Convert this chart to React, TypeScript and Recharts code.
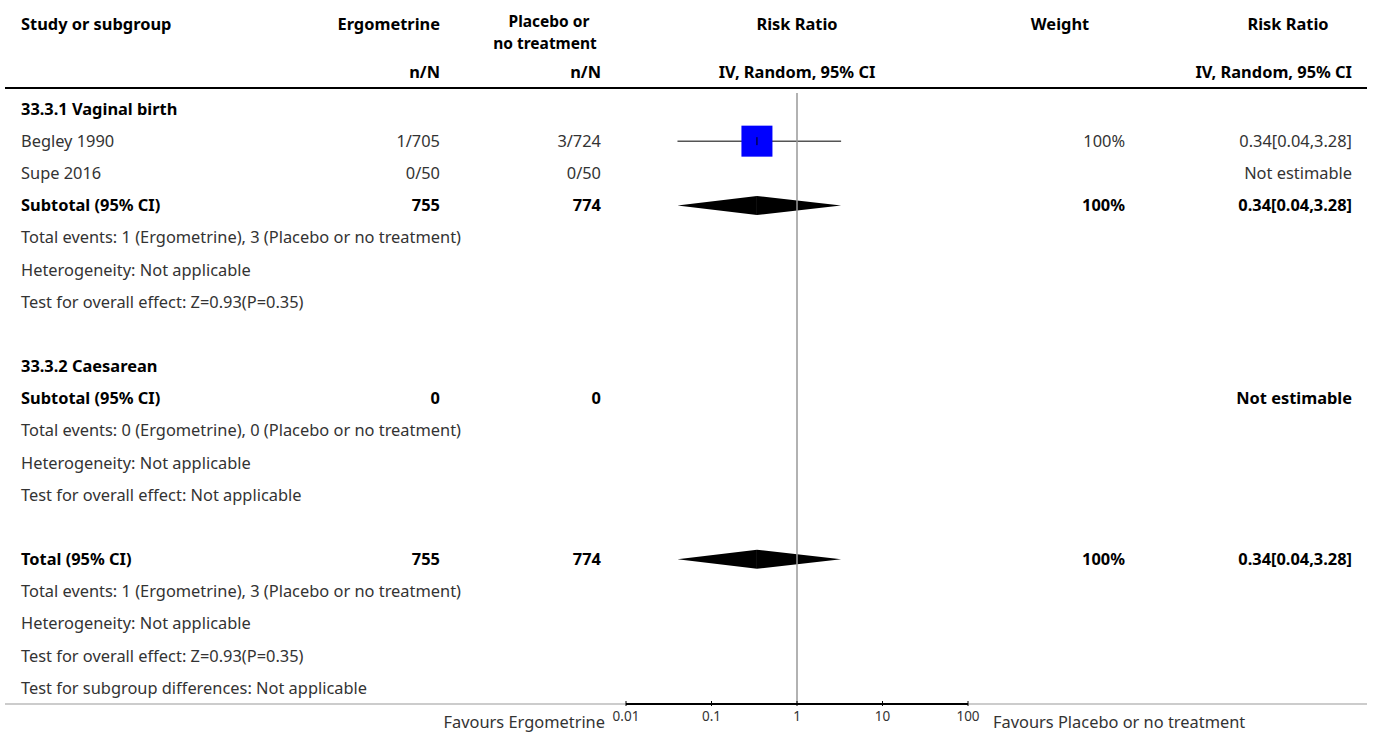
import { ComposedChart, Bar, XAxis, YAxis, ReferenceLine } from "recharts";

const FONT = "'Noto Sans', 'Open Sans', sans-serif";
const FS = 16.4;
const TEXT = "#333";

const rowLabels = [
  "33.3.1 Vaginal birth",
  "Begley 1990",
  "Supe 2016",
  "Subtotal (95% CI)",
  "Total events: 1 (Ergometrine), 3 (Placebo or no treatment)",
  "Heterogeneity: Not applicable",
  "Test for overall effect: Z=0.93(P=0.35)",
  "",
  "33.3.2 Caesarean",
  "Subtotal (95% CI)",
  "Total events: 0 (Ergometrine), 0 (Placebo or no treatment)",
  "Heterogeneity: Not applicable",
  "Test for overall effect: Not applicable",
  "",
  "Total (95% CI)",
  "Total events: 1 (Ergometrine), 3 (Placebo or no treatment)",
  "Heterogeneity: Not applicable",
  "Test for overall effect: Z=0.93(P=0.35)",
  "Test for subgroup differences: Not applicable",
];
const boldRows = [0, 3, 8, 9, 14];
const ergometrine = ["", "1/705", "0/50", "755", "", "", "", "", "", "0", "", "", "", "", "755", "", "", "", ""];
const placebo = ["", "3/724", "0/50", "774", "", "", "", "", "", "0", "", "", "", "", "774", "", "", "", ""];
const weights = ["", "100%", "", "100%", "", "", "", "", "", "", "", "", "", "", "100%", "", "", "", ""];
const riskRatios = [
  "", "0.34[0.04,3.28]", "Not estimable", "0.34[0.04,3.28]", "", "", "", "", "",
  "Not estimable", "", "", "", "", "0.34[0.04,3.28]", "", "", "", "",
];
const estimates = [null, 0.34, null, 0.34, null, null, null, null, null, null, null, null, null, null, 0.34, null, null, null, null];
const lowerCI = [null, 0.04, null, 0.04, null, null, null, null, null, null, null, null, null, null, 0.04, null, null, null, null];
const upperCI = [null, 3.28, null, 3.28, null, null, null, null, null, null, null, null, null, null, 3.28, null, null, null, null];
const markKind = ["", "study", "", "summary", "", "", "", "", "", "", "", "", "", "", "summary", "", "", "", ""];
const axisTicks = [0.01, 0.1, 1, 10, 100];

const data = rowLabels.map((label, i) => ({
  row: String(i),
  label,
  kind: markKind[i],
  left: estimates[i] != null ? [lowerCI[i], estimates[i]] : null,
  right: estimates[i] != null ? [estimates[i], upperCI[i]] : null,
}));

// left half: from lower CI to estimate
const LeftShape = (props: any) => {
  const { x, y, width, height, payload } = props;
  if (!payload || !payload.left || !isFinite(x) || !isFinite(width)) return <g />;
  const cy = y + height / 2;
  if (payload.kind === "summary") {
    return <polygon points={`${x},${cy} ${x + width},${cy - 9.5} ${x + width},${cy + 9.5}`} fill="#000" />;
  }
  return <line x1={x} x2={x + width} y1={cy} y2={cy} stroke="#555" strokeWidth={1.5} />;
};

// right half: from estimate to upper CI, plus the study square
const RightShape = (props: any) => {
  const { x, y, width, height, payload } = props;
  if (!payload || !payload.right || !isFinite(x) || !isFinite(width)) return <g />;
  const cy = y + height / 2;
  if (payload.kind === "summary") {
    return <polygon points={`${x},${cy - 9.5} ${x + width},${cy} ${x},${cy + 9.5}`} fill="#000" />;
  }
  return (
    <g>
      <line x1={x} x2={x + width} y1={cy} y2={cy} stroke="#555" strokeWidth={1.5} />
      <rect x={x - 15.5} y={cy - 15.5} width={31} height={31} fill="#0000ff" />
      <line x1={x} x2={x} y1={cy - 4} y2={cy + 4} stroke="#000" strokeWidth={1} />
    </g>
  );
};

const RowTick = (props: any) => {
  const { y, payload } = props;
  const i = Number(payload.value);
  const bold = boldRows.includes(i);
  const style = { fontFamily: FONT, fontSize: FS, fontWeight: bold ? 700 : 400 };
  const fill = bold ? "#000" : TEXT;
  return (
    <g>
      <text x={21} y={y} dy="0.35em" style={style} fill={fill}>{rowLabels[i]}</text>
      <text x={440} y={y} dy="0.35em" textAnchor="end" style={style} fill={fill}>{ergometrine[i]}</text>
      <text x={601} y={y} dy="0.35em" textAnchor="end" style={style} fill={fill}>{placebo[i]}</text>
      <text x={1125} y={y} dy="0.35em" textAnchor="end" style={style} fill={fill}>{weights[i]}</text>
      <text x={1352} y={y} dy="0.35em" textAnchor="end" style={style} fill={fill}>{riskRatios[i]}</text>
    </g>
  );
};

const AxisTick = (props: any) => {
  const { x, y, payload } = props;
  return (
    <g>
      <line x1={x} x2={x} y1={y - 5} y2={y} stroke="#000" strokeWidth={1} />
      <text x={x} y={y + 15} textAnchor="middle" style={{ fontFamily: FONT, fontSize: 13.5 }} fill={TEXT}>
        {payload.value}
      </text>
    </g>
  );
};

const hStyle = { fontFamily: FONT, fontSize: FS, fontWeight: 700 } as const;
const h2Style = { fontFamily: FONT, fontSize: 15.5, fontWeight: 700 } as const;

export default function App() {
  return (
    <div style={{ position: "absolute", left: 0, top: 0, width: 1375, height: 734, background: "#fff" }}>
      <svg width={1375} height={734} style={{ position: "absolute", left: 0, top: 0 }}>
        <line x1={5} x2={1367} y1={704} y2={704} stroke="#999" strokeWidth={1} />
      </svg>
      <div style={{ position: "absolute", left: 0, top: 0 }}>
        <ComposedChart
          layout="vertical"
          width={1375}
          height={734}
          data={data}
          margin={{ top: 93, right: 407, bottom: 0, left: 0 }}
        >
          <XAxis
            type="number"
            scale="log"
            domain={[0.01, 100]}
            ticks={axisTicks}
            allowDataOverflow
            axisLine={{ stroke: "#000", strokeWidth: 2 }}
            tickLine={false}
            tickSize={0}
            height={30}
            tick={<AxisTick />}
          />
          <YAxis
            type="category"
            dataKey="row"
            width={626}
            axisLine={false}
            tickLine={false}
            interval={0}
            tick={<RowTick />}
          />
          <YAxis yAxisId="b" type="category" dataKey="row" hide />
          <ReferenceLine x={1} stroke="#999" strokeWidth={1.5} />
          <Bar dataKey="left" barSize={32} shape={<LeftShape />} isAnimationActive={false} />
          <Bar dataKey="right" yAxisId="b" barSize={32} shape={<RightShape />} isAnimationActive={false} />
        </ComposedChart>
      </div>
      <svg width={1375} height={100} style={{ position: "absolute", left: 0, top: 0, pointerEvents: "none" }}>
        <text x={21} y={24} dy="0.35em" style={hStyle} fill="#000">Study or subgroup</text>
        <text x={440} y={24} dy="0.35em" textAnchor="end" style={hStyle} fill="#000">Ergometrine</text>
        <text x={549} y={22} dy="0.35em" textAnchor="middle" style={h2Style} fill="#000">Placebo or</text>
        <text x={545} y={44} dy="0.35em" textAnchor="middle" style={h2Style} fill="#000">no treatment</text>
        <text x={797} y={24} dy="0.35em" textAnchor="middle" style={hStyle} fill="#000">Risk Ratio</text>
        <text x={1060} y={24} dy="0.35em" textAnchor="middle" style={hStyle} fill="#000">Weight</text>
        <text x={1288} y={24} dy="0.35em" textAnchor="middle" style={hStyle} fill="#000">Risk Ratio</text>
        <text x={440} y={72} dy="0.35em" textAnchor="end" style={hStyle} fill="#000">n/N</text>
        <text x={601} y={72} dy="0.35em" textAnchor="end" style={hStyle} fill="#000">n/N</text>
        <text x={797} y={72} dy="0.35em" textAnchor="middle" style={hStyle} fill="#000">IV, Random, 95% CI</text>
        <text x={1352} y={72} dy="0.35em" textAnchor="end" style={hStyle} fill="#000">IV, Random, 95% CI</text>
        <line x1={5} x2={1367} y1={88} y2={88} stroke="#000" strokeWidth={2} />
      </svg>
      <div
        style={{
          position: "absolute",
          left: 0,
          width: 605,
          top: 711,
          textAlign: "right",
          fontFamily: FONT,
          fontSize: FS,
          lineHeight: "22px",
          color: TEXT,
        }}
      >
        Favours Ergometrine
      </div>
      <div
        style={{
          position: "absolute",
          left: 993,
          top: 711,
          fontFamily: FONT,
          fontSize: FS,
          lineHeight: "22px",
          color: TEXT,
        }}
      >
        Favours Placebo or no treatment
      </div>
    </div>
  );
}
